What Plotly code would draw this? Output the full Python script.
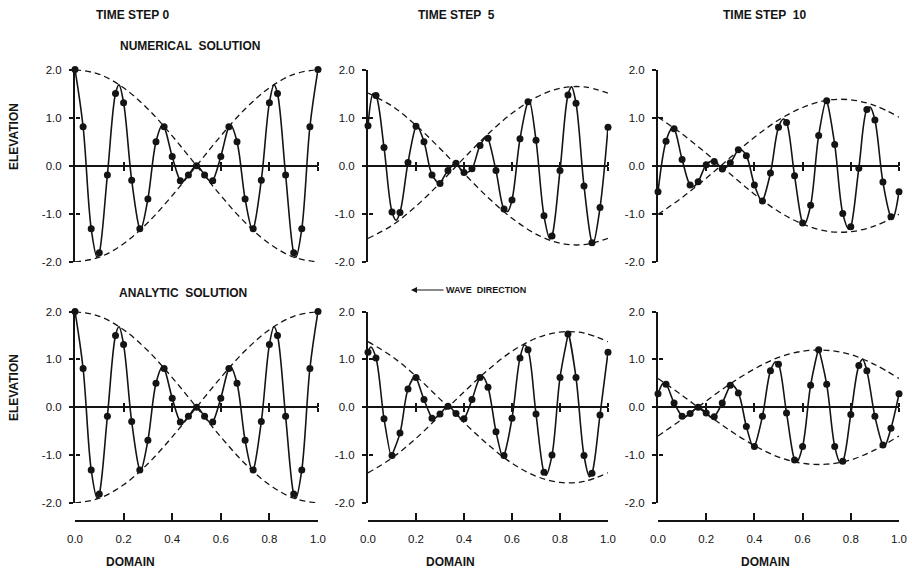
import plotly.graph_objects as go

# ---------------- data ----------------
GRID_X = [0.0, 0.0333, 0.0667, 0.1, 0.1333, 0.1667, 0.2, 0.2333, 0.2667, 0.3,
          0.3333, 0.3667, 0.4, 0.4333, 0.4667, 0.5, 0.5333, 0.5667, 0.6, 0.6333,
          0.6667, 0.7, 0.7333, 0.7667, 0.8, 0.8333, 0.8667, 0.9, 0.9333, 0.9667, 1.0]

# time step 0 (numerical and analytic are identical)
T0_VALUES = [2.00, 0.81, -1.31, -1.81, -0.19, 1.50, 1.31, -0.30, -1.31, -0.69, 0.50,
             0.81, 0.19, -0.31, -0.19, 0.00, -0.19, -0.31, 0.19, 0.81, 0.50,
             -0.69, -1.31, -0.30, 1.31, 1.50, -0.19, -1.81, -1.31, 0.81, 2.00]
T0_PEAK_X = [0.091, 0.181, 0.271, 0.359, 0.442, 0.558, 0.641, 0.729, 0.819, 0.909]
T0_PEAK_Y = [-1.90, 1.68, -1.32, 0.84, -0.33, -0.33, 0.84, -1.32, 1.68, -1.90]

NUM5_VALUES = [0.83, 1.46, 0.38, -0.96, -0.97, 0.07, 0.82, 0.50, -0.19, -0.37, -0.10,
               0.05, -0.14, -0.06, 0.42, 0.57, -0.10, -0.90, -0.71, 0.56, 1.33,
               0.53, -1.04, -1.46, -0.10, 1.47, 1.30, -0.42, -1.60, -0.87, 0.80]
NUM5_PEAK_X = [0.022, 0.117, 0.204, 0.298, 0.365, 0.41, 0.494, 0.582, 0.672, 0.758, 0.848, 0.938]
NUM5_PEAK_Y = [1.50, -1.13, 0.83, -0.38, 0.06, -0.15, 0.60, -0.95, 1.36, -1.52, 1.64, -1.62]

NUM10_VALUES = [-0.54, 0.51, 0.77, 0.13, -0.40, -0.33, 0.02, 0.09, -0.07, 0.06, 0.33,
                0.21, -0.40, -0.73, -0.15, 0.80, 0.90, -0.21, -1.19, -0.82, 0.63,
                1.35, 0.44, -0.99, -1.27, -0.05, 1.17, 0.95, -0.34, -1.06, -0.54]
NUM10_PEAK_X = [0.058, 0.148, 0.222, 0.268, 0.343, 0.43, 0.52, 0.607, 0.698, 0.792, 0.88, 0.975]
NUM10_PEAK_Y = [0.78, -0.43, 0.10, -0.08, 0.34, -0.74, 0.97, -1.22, 1.36, -1.32, 1.22, -1.08]

ANA5_VALUES = [1.15, 1.03, -0.24, -1.01, -0.54, 0.38, 0.62, 0.16, -0.23, -0.14, 0.02,
               -0.13, -0.24, 0.16, 0.62, 0.42, -0.51, -1.01, -0.23, 1.03, 1.20,
               -0.14, -1.36, -1.00, 0.62, 1.53, 0.62, -1.01, -1.38, -0.16, 1.15]
ANA5_PEAK_X = [0.012, 0.098, 0.195, 0.272, 0.39, 0.478, 0.562, 0.652, 0.742, 0.834, 0.923]
ANA5_PEAK_Y = [1.26, -1.06, 0.64, -0.25, -0.25, 0.64, -1.05, 1.30, -1.42, 1.57, -1.45]

ANA10_VALUES = [0.28, 0.48, 0.09, -0.19, -0.13, 0.00, -0.12, -0.20, 0.09, 0.46, 0.30,
                -0.40, -0.82, -0.19, 0.76, 0.90, -0.12, -1.10, -0.82, 0.46, 1.20,
                0.48, -0.82, -1.13, -0.15, 0.87, 0.76, -0.19, -0.79, -0.44, 0.28]
ANA10_PEAK_X = [0.022, 0.108, 0.222, 0.305, 0.395, 0.488, 0.575, 0.666, 0.756, 0.849, 0.94]
ANA10_PEAK_Y = [0.50, -0.21, -0.22, 0.48, -0.84, 0.95, -1.15, 1.20, -1.16, 1.00, -0.82]

# dashed envelopes (one branch; the other branch is its mirror)
ENV_X = [0.0, 0.1, 0.2, 0.3, 0.4, 0.5, 0.6, 0.7, 0.8, 0.9, 1.0]
ENV_T0 = [2.00, 1.90, 1.62, 1.18, 0.62, 0.00, -0.62, -1.18, -1.62, -1.90, -2.00]
ENV_NUM5 = [-1.51, -1.24, -0.84, -0.36, 0.16, 0.66, 1.09, 1.42, 1.61, 1.64, 1.51]
ENV_NUM10 = [-1.01, -0.66, -0.26, 0.17, 0.59, 0.95, 1.21, 1.36, 1.37, 1.25, 1.01]
ENV_ANA5 = [-1.37, -1.06, -0.65, -0.17, 0.32, 0.78, 1.17, 1.44, 1.57, 1.55, 1.37]
ENV_ANA10 = [-0.60, -0.25, 0.13, 0.49, 0.80, 1.04, 1.17, 1.19, 1.10, 0.89, 0.60]

Y_TICKS = [-2, -1, 0, 1, 2]
Y_TICK_TEXT = ["-2.0", "-1.0", "0.0", "1.0", "2.0"]
X_TICKS = [0, 0.2, 0.4, 0.6, 0.8, 1.0]
X_TICK_TEXT = ["0.0", "0.2", "0.4", "0.6", "0.8", "1.0"]

# ---------------- layout geometry (pixels) ----------------
W, H = 912, 571
COLS = [(75, 318), (368, 608), (658, 899)]
ROWS = [(69.5, 262), (311.5, 503)]
BOTTOM_AXIS_PX = 521

def px(xp):
    return xp / W

def py(yp):
    return 1 - yp / H

INK = "#141414"
FONT = "Liberation Sans"

panels = [
    (0, 0, T0_VALUES, T0_PEAK_X, T0_PEAK_Y, ENV_T0),
    (0, 1, NUM5_VALUES, NUM5_PEAK_X, NUM5_PEAK_Y, ENV_NUM5),
    (0, 2, NUM10_VALUES, NUM10_PEAK_X, NUM10_PEAK_Y, ENV_NUM10),
    (1, 0, T0_VALUES, T0_PEAK_X, T0_PEAK_Y, ENV_T0),
    (1, 1, ANA5_VALUES, ANA5_PEAK_X, ANA5_PEAK_Y, ENV_ANA5),
    (1, 2, ANA10_VALUES, ANA10_PEAK_X, ANA10_PEAK_Y, ENV_ANA10),
]

fig = go.Figure()
layout = {}


def anchor_trace(xa, ya):
    # invisible trace so that an overlay axis gets drawn
    fig.add_trace(go.Scatter(x=[0.5], y=[0], xaxis=xa, yaxis=ya, mode="markers",
                             marker=dict(opacity=0, size=1), hoverinfo="skip",
                             showlegend=False))


for i, (r, c, vals, pkx, pky, env) in enumerate(panels, start=1):
    xa, ya = f"x{i}", f"y{i}"
    x0, x1 = COLS[c]
    ytop, ybot = ROWS[r]
    xdom = [px(x0), px(x1)]
    ydom = [py(ybot), py(ytop)]
    yzero = (ydom[0] + ydom[1]) / 2

    # envelopes
    for sign in (1, -1):
        fig.add_trace(go.Scatter(
            x=ENV_X, y=[sign * v for v in env], xaxis=xa, yaxis=ya,
            mode="lines", line=dict(color=INK, width=1.3, dash="6px,4px", shape="spline", smoothing=1.0),
            hoverinfo="skip", showlegend=False, cliponaxis=False))
    # solid wave through dots and read extrema
    pts = sorted(zip(GRID_X + pkx, vals + pky))
    fig.add_trace(go.Scatter(
        x=[p[0] for p in pts], y=[p[1] for p in pts], xaxis=xa, yaxis=ya,
        mode="lines", line=dict(color=INK, width=1.6, shape="spline", smoothing=1.0),
        hoverinfo="skip", showlegend=False, cliponaxis=False))
    # dots
    fig.add_trace(go.Scatter(
        x=GRID_X, y=vals, xaxis=xa, yaxis=ya, mode="markers",
        marker=dict(color=INK, size=7), showlegend=False, cliponaxis=False))

    sfx = "" if i == 1 else str(i)
    # zero line axis with downward ticks
    layout[f"xaxis{sfx}"] = dict(
        domain=xdom, range=[0, 1], anchor="free", position=yzero, automargin=False,
        showline=True, linecolor=INK, linewidth=2, ticks="outside", ticklen=4,
        tickwidth=1.5, tickcolor=INK, tickvals=X_TICKS[1:], showticklabels=False,
        showgrid=False, zeroline=False, fixedrange=True)
    # upward ticks on zero line
    layout[f"xaxis{i + 6}"] = dict(
        overlaying=xa, range=[0, 1], anchor="free", position=yzero, side="top",
        automargin=False,
        showline=False, ticks="outside", ticklen=4, tickwidth=1.5, tickcolor=INK,
        tickvals=X_TICKS[1:], showticklabels=False, showgrid=False, zeroline=False,
        fixedrange=True)
    anchor_trace(f"x{i + 6}", ya)
    layout[f"yaxis{sfx}"] = dict(
        domain=ydom, range=[-2, 2], anchor=xa, showline=True, linecolor=INK,
        automargin=False,
        linewidth=2, ticks="outside", ticklen=4, tickwidth=1.5, tickcolor=INK,
        tickvals=Y_TICKS, ticktext=Y_TICK_TEXT, ticklabelstandoff=5,
        tickfont=dict(family=FONT, size=11.5, color=INK),
        showgrid=False, zeroline=False, fixedrange=True)
    layout[f"yaxis{i + 6}"] = dict(
        overlaying=ya, range=[-2, 2], anchor="free", position=xdom[0], side="left",
        automargin=False,
        showline=False, ticks="inside", ticklen=4, tickwidth=1.5, tickcolor=INK,
        tickvals=Y_TICKS, showticklabels=False, showgrid=False, zeroline=False,
        fixedrange=True)
    anchor_trace(xa, f"y{i + 6}")
    if r == 1:
        bx = f"x{12 + c + 1}"
        layout[f"xaxis{12 + c + 1}"] = dict(
            overlaying=xa, range=[0, 1], anchor="free", position=py(BOTTOM_AXIS_PX),
            side="bottom", showline=True, linecolor=INK, linewidth=1.5,
            automargin=False,
            ticks="inside", ticklen=7, tickwidth=1.5, tickcolor=INK,
            tickvals=X_TICKS, ticktext=X_TICK_TEXT, ticklabelstandoff=7,
            tickfont=dict(family=FONT, size=11.5, color=INK),
            showgrid=False, zeroline=False, fixedrange=True)
        anchor_trace(bx, ya)

annotations = []


def label(text, xp, yp, size=12, angle=0):
    annotations.append(dict(
        text=text, x=px(xp), y=py(yp), xref="paper", yref="paper",
        showarrow=False, textangle=angle, xanchor="center", yanchor="middle",
        font=dict(family=FONT, size=size, color=INK)))


label("<b>TIME STEP 0</b>", 132, 15)
label("<b>TIME STEP  5</b>", 456, 15)
label("<b>TIME STEP  10</b>", 764, 15)
label("<b>NUMERICAL  SOLUTION</b>", 190, 46)
label("<b>ANALYTIC  SOLUTION</b>", 183, 293)
label("<b>WAVE  DIRECTION</b>", 486, 290, size=9)
label("<b>ELEVATION</b>", 14, 137, angle=-90)
label("<b>ELEVATION</b>", 14, 388, angle=-90)
for xc in (130, 450, 765):
    label("<b>DOMAIN</b>", xc, 562)

annotations.append(dict(
    text="", x=px(411), y=py(290), ax=34, ay=0, xref="paper", yref="paper",
    showarrow=True, arrowhead=2, arrowsize=1, arrowwidth=1.2, arrowcolor=INK))

fig.update_layout(
    width=W, height=H, margin=dict(l=0, r=0, t=0, b=0, autoexpand=False),
    paper_bgcolor="white", plot_bgcolor="white", showlegend=False,
    annotations=annotations, **layout)

fig.write_html("out.html")
